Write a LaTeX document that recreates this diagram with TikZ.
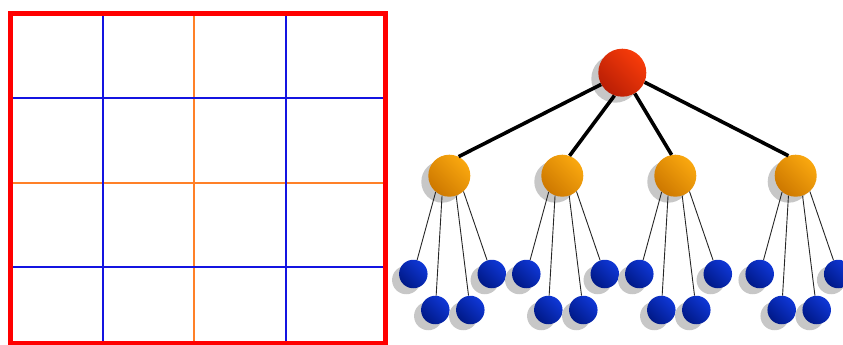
\documentclass[tikz,border=0pt]{standalone}
\usetikzlibrary{shadows}
\definecolor{gred}{RGB}{255,0,0}
\definecolor{gblue}{RGB}{20,20,225}
\definecolor{gorange}{RGB}{255,128,40}
\definecolor{rootL}{RGB}{248,60,10}
\definecolor{rootD}{RGB}{185,30,5}
\definecolor{midL}{RGB}{250,168,15}
\definecolor{midD}{RGB}{205,120,0}
\definecolor{leafL}{RGB}{15,55,215}
\definecolor{leafD}{RGB}{0,25,135}
\tikzset{
  ball/.style={circle, inner sep=0pt, minimum size=#1, draw=none,
    drop shadow={shadow xshift=-7pt, shadow yshift=-6pt, fill=black!22, opacity=1}},
  rootball/.style={ball=48pt, top color=rootL, bottom color=rootD, shading angle=-45},
  midball/.style={ball=42pt, top color=midL, bottom color=midD, shading angle=-45},
  leafball/.style={ball=28.5pt, top color=leafL, bottom color=leafD, shading angle=-45},
  thickedge/.style={line width=3.6pt, black},
  thinedge/.style={line width=0.9pt, black!85},
  gridline/.style={line width=2.2pt}
}
\begin{document}
\begin{tikzpicture}[x=1pt,y=-1pt]
\useasboundingbox (0,0) rectangle (843,345);
% grid
\draw[gridline, gorange] (194,13) -- (194,343) (11,182.7) -- (385,182.7);
\draw[gridline, gblue] (102.7,13) -- (102.7,343) (286,13) -- (286,343)
  (11,97.7) -- (385,97.7) (11,267.3) -- (385,267.3);
\draw[gred, line width=5pt] (10.8,13.3) rectangle (385,343.3);
% tree
\node[rootball] (r) at (622.3,72.7) {};
\foreach \i/\x in {1/449.3,2/562.3,3/675.3,4/795.7}{
  \node[midball] (m\i) at (\x,175.7) {};
  \node[leafball] (c\i1) at (\x-36,274) {};
  \node[leafball] (c\i4) at (\x+42.5,274) {};
  \node[leafball] (c\i2) at (\x-14,310) {};
  \node[leafball] (c\i3) at (\x+21,310) {};
  \draw[thinedge] (m\i.-130) -- (c\i1);
  \draw[thinedge] (m\i.-110) -- (c\i2);
  \draw[thinedge] (m\i.-71) -- (c\i3);
  \draw[thinedge] (m\i.-48) -- (c\i4);
}
\draw[thickedge] (r.-151) -- (m1.64.6);
\draw[thickedge] (r.-109) -- (m2.70);
\draw[thickedge] (r.-59) -- (m3.100);
\draw[thickedge] (r.-23.5) -- (m4.110);
\end{tikzpicture}
\end{document}
